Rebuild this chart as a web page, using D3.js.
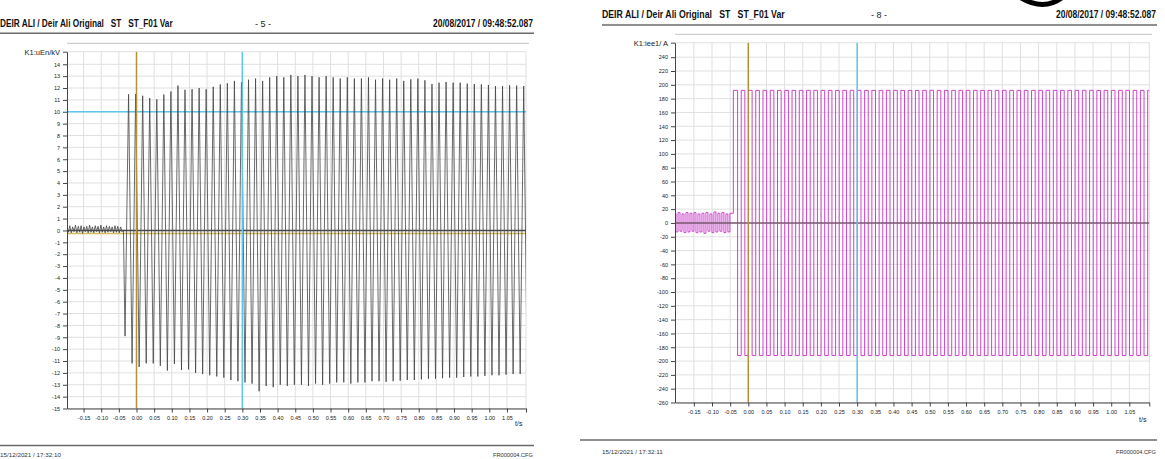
<!DOCTYPE html>
<html>
<head>
<meta charset="utf-8">
<script src="https://cdn.jsdelivr.net/npm/d3@7"></script>
<style>
  body { margin: 0; background: #fff; overflow: hidden; }
  svg { display: block; font-family: "Liberation Sans", Arial, sans-serif; }
</style>
</head>
<body>
<svg id="chart" width="1165" height="459"></svg>
<script>
const headerTitle = 'DEIR ALI / Deir Ali Original   ST   ST_F01 Var';
const headerDate = '20/08/2017 / 09:48:52.087';
const fileName = 'FR000004.CFG';

const xTicks = [-0.15, -0.10, -0.05, 0.00, 0.05, 0.10, 0.15, 0.20, 0.25, 0.30, 0.35, 0.40, 0.45,
    0.50, 0.55, 0.60, 0.65, 0.70, 0.75, 0.80, 0.85, 0.90, 0.95, 1.00, 1.05];

// page 5 : voltage
const vTicks = [-15, -14, -13, -12, -11, -10, -9, -8, -7, -6, -5, -4, -3, -2, -1, 0,
    1, 2, 3, 4, 5, 6, 7, 8, 9, 10, 11, 12, 13, 14];
const vRippleStart = -0.197;
const vRippleStep = 0.004;
const vRipple = [0.35, -0.15, 0.4, -0.2, 0.3, -0.1, 0.45, -0.2, 0.35, -0.15, 0.4, -0.25, 0.3, -0.1,
    0.35, -0.2, 0.45, -0.15, 0.3, -0.2, 0.4, -0.1, 0.35, -0.2, 0.45, -0.15, 0.3, -0.2, 0.4, -0.15,
    0.35, -0.1, 0.3, -0.2, 0.4, -0.15, 0.35, -0.2, 0.3, -0.1, 0.05];
const vFaultStart = -0.0325;   // first negative peak, one peak every 10 ms after it
const vNegPeaks = [-8.9, -11.2, -11.5, -11.2, -11.2, -11.4, -11.8, -11.25, -11.75, -11.7, -12.0, -12.1,
    -12.2, -12.3, -12.4, -12.6, -12.7, -12.8, -12.9, -13.55, -13.1, -13.2, -13.0, -13.1, -13.0, -13.0,
    -13.1, -12.9, -13.0, -12.9, -12.8, -12.8, -12.9, -12.8, -12.8, -12.7, -12.7, -12.75, -12.7, -12.65,
    -12.6, -12.6, -12.55, -12.5, -12.5, -12.45, -12.4, -12.4, -12.35, -12.3, -12.3, -12.25, -12.2,
    -12.2, -12.15, -12.1, -12.1, -12.0];
const vPosPeaks = [11.47, 11.5, 11.35, 11.15, 11.05, 11.45, 11.7, 12.2, 11.85, 11.9, 12.0, 11.9, 12.1,
    12.3, 12.4, 12.6, 12.5, 12.7, 12.8, 12.6, 12.9, 13.0, 12.9, 13.1, 13.0, 13.1, 13.0, 12.9, 13.0,
    12.9, 12.8, 12.9, 12.8, 12.8, 12.9, 12.7, 12.8, 12.7, 12.8, 12.6, 12.73, 12.79, 12.65, 12.34,
    12.45, 12.51, 12.45, 12.45, 12.37, 12.34, 12.31, 12.26, 12.17, 12.17, 12.23, 12.2, 12.17];

// page 8 : current
const iTicks = [-260, -240, -220, -200, -180, -160, -140, -120, -100, -80, -60, -40, -20, 0,
    20, 40, 60, 80, 100, 120, 140, 160, 180, 200, 220, 240];
const iRippleStart = -0.202;
const iRippleStep = 0.0055;
const iRipple = [14, -13, 15, -12, 13, -14, 15, -13, 14, -12, 15, -14, 13, -13, 14, -15, 15, -12, 13,
    -14, 16, -13, 14, -12, 15, -14, 13, -13, 14];
const iFaultStart = -0.0345;   // first positive peak
const iPosPeaks = [192, 192, 192, 192, 192, 192, 192, 192, 192, 192, 192, 192, 192, 192, 192, 192,
    192, 192, 192, 192, 192, 192, 192, 192, 192, 192, 192, 192, 192, 192, 192, 192, 192, 192, 192,
    192, 192, 192, 192, 192, 192, 192, 192, 192, 192, 192, 192, 192, 192, 192, 192, 192, 192, 192,
    192, 192, 192, 192];
const iNegPeaks = [-192, -192, -192, -192, -192, -192, -192, -192, -192, -192, -192, -192, -192, -192,
    -192, -192, -192, -192, -192, -192, -192, -192, -192, -192, -192, -192, -192, -192, -192, -192,
    -192, -192, -192, -192, -192, -192, -192, -192, -192, -192, -192, -192, -192, -192, -192, -192,
    -192, -192, -192, -192, -192, -192, -192, -192, -192, -192, -192];

// ---- helpers ----
function buildSeries(rippleStart, rippleStep, ripple, faultStart, first, second) {
    const pts = ripple.map((v, i) => [rippleStart + i * rippleStep, v]);
    first.forEach((v, i) => {
        pts.push([faultStart + i * 0.02, v]);
        if (i < second.length) pts.push([faultStart + 0.01 + i * 0.02, second[i]]);
    });
    return pts;
}

// squeeze a text horizontally so it spans exactly `width` px from `x`
function fitText(sel, x, y, width) {
    const w = sel.node().getComputedTextLength();
    sel.attr('x', 0).attr('y', 0)
        .attr('transform', `translate(${x},${y}) scale(${width / w},1)`);
    return sel;
}

const svg = d3.select('#chart');

function drawPanel(p) {
    const g = svg.append('g');

    const xScale = d3.scaleLinear().domain(p.xDomain).range([p.left, p.right]);
    const yScale = d3.scaleLinear().domain(p.yDomain).range([p.bottom, p.top]);

    // header
    const title = g.append('text')
        .attr('font-size', 10).attr('font-weight', 'bold').attr('fill', '#111')
        .style('white-space', 'pre')
        .text(headerTitle);
    fitText(title, p.textLeft, p.headY, p.titleLen);
    g.append('text')
        .attr('x', p.pageX).attr('y', p.headY)
        .attr('font-size', 9).attr('fill', '#222').attr('text-anchor', 'middle')
        .style('white-space', 'pre')
        .text(p.page);
    const date = g.append('text')
        .attr('font-size', 10).attr('font-weight', 'bold').attr('fill', '#111')
        .text(headerDate);
    fitText(date, p.textRight - 100, p.headY, 100);
    g.append('line')
        .attr('x1', p.lineLeft).attr('x2', p.textRight + 1)
        .attr('y1', p.headLine).attr('y2', p.headLine)
        .attr('stroke', '#6a6a6a').attr('stroke-width', 1.5);
    g.append('line')
        .attr('x1', p.left).attr('x2', p.textRight - 4)
        .attr('y1', p.subLine).attr('y2', p.subLine)
        .attr('stroke', '#c4c4c4').attr('stroke-width', 1);

    // footer
    g.append('line')
        .attr('x1', p.footLeft).attr('x2', p.textRight + 1)
        .attr('y1', p.footLine).attr('y2', p.footLine)
        .attr('stroke', '#6a6a6a').attr('stroke-width', 1.5);
    const printed = g.append('text')
        .attr('font-size', 6).attr('fill', '#333')
        .text(p.printed);
    fitText(printed, p.footTextLeft, p.footY, 61);
    const cfg = g.append('text')
        .attr('font-size', 6).attr('fill', '#333')
        .text(fileName);
    fitText(cfg, p.textRight - 40, p.footY, 40);

    // grid
    const grid = g.append('g').attr('stroke', '#e0e0e0').attr('stroke-width', 1);
    grid.selectAll('.vg').data(p.xTicks.concat([p.xDomain[1]]))
        .enter().append('line')
        .attr('x1', d => xScale(d)).attr('x2', d => xScale(d))
        .attr('y1', p.top).attr('y2', p.bottom);
    grid.selectAll('.hg').data(p.yTicks.concat([p.yDomain[1]]))
        .enter().append('line')
        .attr('x1', p.left).attr('x2', p.right)
        .attr('y1', d => yScale(d)).attr('y2', d => yScale(d));

    const clipId = 'clip' + p.page.replace(/\D/g, '');
    svg.append('clipPath').attr('id', clipId)
        .append('rect')
        .attr('x', p.left).attr('y', p.top)
        .attr('width', p.right - p.left).attr('height', p.bottom - p.top);

    const plot = g.append('g').attr('clip-path', `url(#${clipId})`);

    // horizontal cursors under the trace
    p.hLines.forEach(h => {
        plot.append('line')
            .attr('x1', p.left).attr('x2', p.right)
            .attr('y1', yScale(h.value)).attr('y2', yScale(h.value))
            .attr('stroke', h.color).attr('stroke-width', h.width);
    });

    const line = d3.line()
        .x(d => xScale(d[0]))
        .y(d => yScale(d[1]))
        .curve(p.curve);

    plot.append('path')
        .datum(p.series)
        .attr('d', line)
        .attr('fill', 'none')
        .attr('stroke', p.traceColor)
        .attr('stroke-width', p.traceWidth);

    // zero line and cursors over the trace
    plot.append('line')
        .attr('x1', p.left).attr('x2', p.right)
        .attr('y1', yScale(0)).attr('y2', yScale(0))
        .attr('stroke', p.zeroColor).attr('stroke-width', 1.5);
    p.vLines.forEach(v => {
        plot.append('line')
            .attr('x1', xScale(v.value)).attr('x2', xScale(v.value))
            .attr('y1', p.top).attr('y2', p.bottom)
            .attr('stroke', v.color).attr('stroke-width', 1.5);
    });

    // axes
    const yTop = p.yDomain[1];
    const yAxis = d3.axisLeft(yScale)
        .tickValues(p.yTicks.concat([yTop]))
        .tickSize(4)
        .tickSizeOuter(0)
        .tickPadding(3)
        .tickFormat(d => d === yTop ? p.unit : String(d));
    const yAxisG = g.append('g')
        .attr('transform', `translate(${p.left},0)`)
        .call(yAxis);

    const xEnd = p.xDomain[1];
    const xAxis = d3.axisBottom(xScale)
        .tickValues(p.xTicks.concat([xEnd]))
        .tickSize(4)
        .tickSizeOuter(0)
        .tickPadding(4)
        .tickFormat(d => d === xEnd ? '' : d.toFixed(2));
    const xAxisG = g.append('g')
        .attr('transform', `translate(0,${p.bottom})`)
        .call(xAxis);

    [xAxisG, yAxisG].forEach(a => {
        a.select('.domain').attr('stroke', '#444');
        a.selectAll('.tick line').attr('stroke', '#444');
        a.selectAll('.tick text')
            .attr('font-family', '"Liberation Sans", Arial, sans-serif')
            .attr('font-size', 5.5).attr('fill', '#222');
    });
    yAxisG.selectAll('.tick text')
        .filter(d => d === yTop)
        .attr('font-size', 7.5);

    g.append('text')
        .attr('x', p.tsX).attr('y', p.tsY)
        .attr('font-size', 7).attr('fill', '#222')
        .text('t/s');
}

drawPanel({
    page: '- 5 -',
    printed: '15/12/2021 / 17:32:10',
    unit: 'K1:uEn/kV',
    left: 67, right: 526, top: 51.7, bottom: 408.5,
    xDomain: [-0.197, 1.104], yDomain: [-15, 15.06],
    xTicks: xTicks, yTicks: vTicks,
    textLeft: 0, lineLeft: 0, textRight: 533, titleLen: 173, pageX: 263, headY: 27,
    headLine: 33.3, subLine: 43.3, footLine: 445.5, footLeft: 0, footTextLeft: 0, footY: 457,
    tsX: 515, tsY: 426,
    series: buildSeries(vRippleStart, vRippleStep, vRipple, vFaultStart, vNegPeaks, vPosPeaks),
    curve: d3.curveLinear, traceColor: '#444', traceWidth: 0.8,
    zeroColor: '#4a4a4a',
    hLines: [{ value: 10, color: '#5cc6ec', width: 1.5 }, { value: -0.25, color: '#d7bd5a', width: 1.5 }],
    vLines: [{ value: 0, color: '#b3913a' }, { value: 0.30, color: '#5cc6ec' }]
});

drawPanel({
    page: '- 8 -',
    printed: '15/12/2021 / 17:32:11',
    unit: 'K1:iee1/ A',
    left: 675, right: 1149.3, top: 42.7, bottom: 402.5,
    xDomain: [-0.202, 1.105], yDomain: [-260, 261],
    xTicks: xTicks, yTicks: iTicks,
    textLeft: 602, lineLeft: 602, textRight: 1156, titleLen: 183, pageX: 879, headY: 18,
    headLine: 25, subLine: 34.3, footLine: 440, footLeft: 580, footTextLeft: 602, footY: 454,
    tsX: 1139, tsY: 422,
    series: buildSeries(iRippleStart, iRippleStep, iRipple, iFaultStart, iPosPeaks, iNegPeaks),
    curve: d3.curveStep, traceColor: '#cc44cc', traceWidth: 1,
    zeroColor: '#7a5a72',
    hLines: [],
    vLines: [{ value: 0, color: '#b3913a' }, { value: 0.30, color: '#5cc6ec' }]
});

// pen stroke visible at the top edge of the scan
svg.append('path')
    .attr('d', 'M1018,-4 Q1044,13 1064,-4')
    .attr('fill', 'none')
    .attr('stroke', '#000')
    .attr('stroke-width', 5);
</script>
</body>
</html>
